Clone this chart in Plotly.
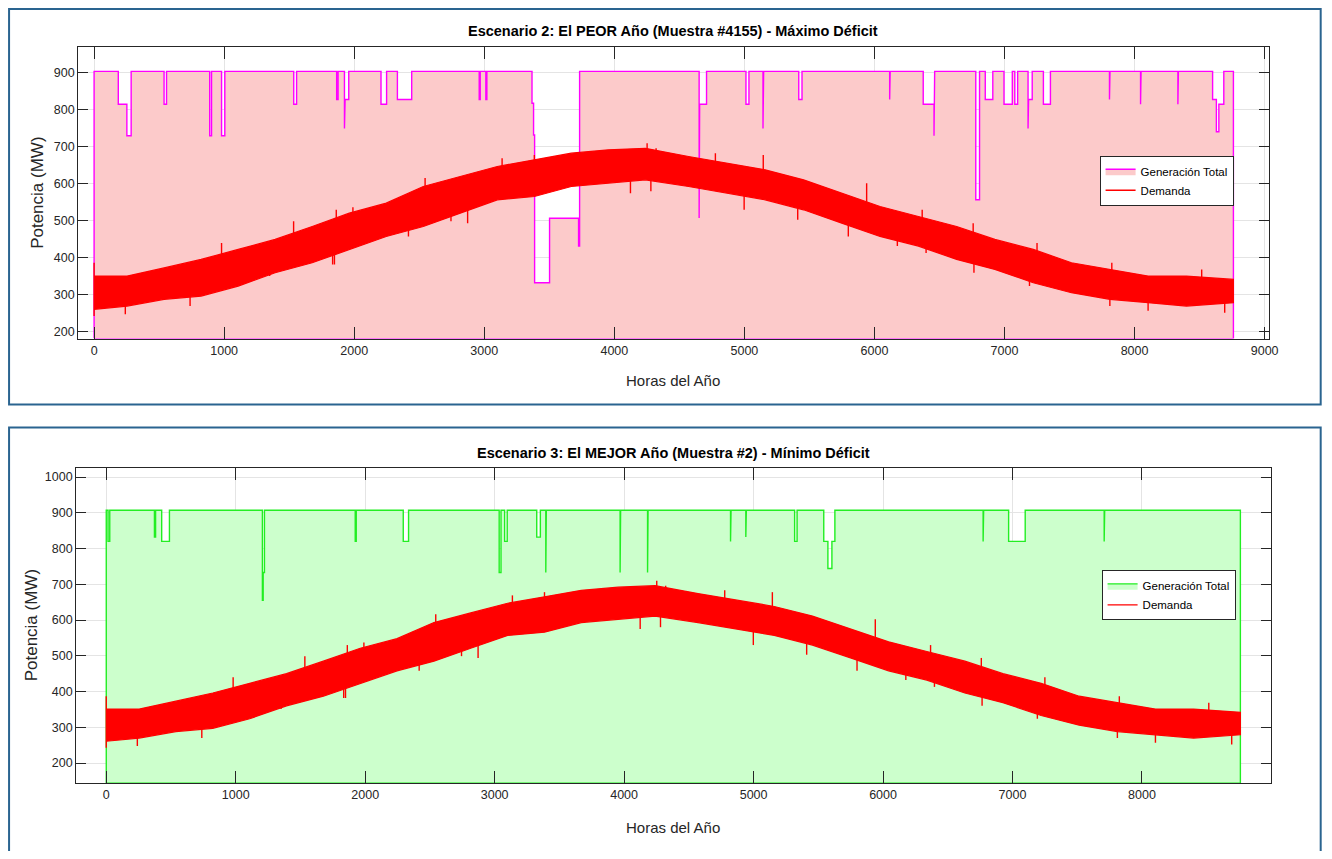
import plotly.graph_objects as go

# page body has an 8 px margin; the photographed page comes out slightly narrower,
# so horizontal targets are widened by XS
OFF = 8
XS = 1.008
W, H = 1340, 859 - 2 * OFF
FONT = "Liberation Sans, Arial, Helvetica, sans-serif"

# ---------------- data ----------------
HOURS_END = 8760

# Demand band (MW): upper / lower edge of the noisy hourly demand
dem_hours = [0, 254, 538, 823, 1108, 1392, 1677, 1962, 2246, 2531, 2815, 3100, 3385, 3669,
             3954, 4239, 4571, 4866, 5160, 5455, 5749, 6043, 6338, 6632, 6926, 7221, 7515,
             7810, 8104, 8399, 8760]
dem_upper = [351, 351, 373, 396, 423, 450, 485, 521, 548, 593, 620, 647, 665, 683,
             692, 696, 674, 656, 638, 611, 575, 539, 512, 485, 450, 423, 387,
             369, 351, 351, 342]
dem_lower = [261, 270, 288, 297, 324, 360, 387, 423, 458, 485, 521, 557, 566, 593,
             602, 611, 593, 575, 557, 530, 494, 458, 432, 396, 369, 333, 306,
             288, 279, 270, 279]

# Isolated demand spikes (hour, band value, spike tip)
spike_hours = [0, 0, 240, 738, 980, 1350, 1534, 1834, 1848, 1862, 1990, 2417, 2545, 2744,
               2872, 3137, 3385, 4124, 4252, 4281, 4321, 4777, 4998, 5145, 5410, 5799,
               5940, 6176, 6367, 6397, 6759, 6765, 7192, 7250, 7810, 7825, 8104, 8516, 8693]
spike_from = [300, 300, 300, 330, 410, 400, 440, 440, 420, 470, 470, 520, 540, 560,
              560, 600, 610, 640, 650, 640, 640, 620, 600, 600, 570, 530,
              540, 490, 470, 470, 440, 420, 380, 380, 330, 330, 310, 310, 300]
spike_to = [387, 243, 248, 270, 440, 351, 499, 382, 382, 530, 537, 458, 616, 499,
            494, 669, 678, 575, 710, 580, 696, 683, 530, 678, 503, 458,
            602, 432, 530, 413, 494, 360, 324, 440, 270, 387, 257, 369, 252]

# Scenario 2 (worst year): total generation, full level and reduced-capacity periods
top_full = 904
top_start = [186, 252, 538, 889, 980, 1535, 1865, 1925, 1930, 2206, 2332, 2961, 3012, 3367,
             3379, 3387, 3502, 3725, 4652, 4656, 5012, 5143, 5418, 6117, 6375, 6458, 6779,
             6852, 6996, 7079, 7181, 7185, 7299, 7807, 8046, 8333, 8600, 8629, 8648]
top_end = [252, 285, 557, 903, 1005, 1557, 1876, 1930, 1958, 2249, 2442, 2969, 3020, 3379,
           3387, 3502, 3725, 3733, 4656, 4709, 5035, 5148, 5443, 6121, 6458, 6463, 6808,
           6910, 7060, 7101, 7185, 7213, 7353, 7811, 8050, 8337, 8629, 8648, 8686]
top_level = [815, 730, 815, 730, 730, 815, 828, 750, 828, 815, 828, 828, 828, 818,
             732, 333, 507, 432, 508, 815, 815, 750, 828, 828, 815, 730, 557,
             828, 815, 815, 750, 828, 815, 828, 815, 815, 828, 741, 815]

# Scenario 3 (best year)
bot_full = 907
bot_start = [14, 372, 428, 1206, 1212, 1923, 2294, 3035, 3077, 3325, 3395, 3969, 4181, 4822,
             4940, 5317, 5542, 5574, 5605, 6773, 6970, 7708]
bot_end = [27, 381, 488, 1212, 1222, 1931, 2335, 3049, 3097, 3353, 3399, 3973, 4185, 4826,
           4944, 5336, 5574, 5605, 5628, 6777, 7098, 7712]
bot_level = [820, 832, 820, 655, 733, 820, 820, 733, 820, 832, 733, 733, 733, 820,
             832, 820, 820, 744, 820, 820, 820, 820]

top_title = "Escenario 2: El PEOR Año (Muestra #4155) - Máximo Déficit"
bot_title = "Escenario 3: El MEJOR Año (Muestra #2) - Mínimo Déficit"
x_title = "Horas del Año"
y_title = "Potencia (MW)"
name_gen = "Generación Total"
name_dem = "Demanda"

top_xrange = [-123, 9031]
top_yrange = [182, 970]
bot_xrange = [-233, 8994]
bot_yrange = [144, 1024]


# ---------------- helpers ----------------
def stairs(full, starts, ends, levels, end_h, base):
    pts = [(0, base), (0, full)]
    n = len(starts)
    for i in range(n):
        s, e, l = starts[i], ends[i], levels[i]
        if pts[-1][0] != s:
            pts.append((s, full))
        pts.append((s, l))
        pts.append((e, l))
        if i == n - 1 or starts[i + 1] != e:
            pts.append((e, full))
    pts += [(end_h, full), (end_h, base), (0, base)]
    return [p[0] for p in pts], [p[1] for p in pts]


def spikes_xy():
    xs, ys = [], []
    for h, a, b in zip(spike_hours, spike_from, spike_to):
        xs += [h, h, None]
        ys += [a, b, None]
    return xs, ys


fig = go.Figure()


def add_panel(xa, ya, full, starts, ends, levels, base, fill, edge, legend):
    gx, gy = stairs(full, starts, ends, levels, HOURS_END, base)
    fig.add_trace(go.Scatter(x=gx, y=gy, mode="lines", fill="tozeroy", fillcolor=fill,
                             line=dict(color=edge, width=1.4), name=name_gen,
                             xaxis=xa, yaxis=ya, legend=legend, hoverinfo="skip"))
    bx = dem_hours + dem_hours[::-1]
    by = dem_upper + dem_lower[::-1]
    fig.add_trace(go.Scatter(x=bx, y=by, mode="lines", fill="toself", fillcolor="#ff0000",
                             line=dict(color="#ff0000", width=1.2), showlegend=False,
                             xaxis=xa, yaxis=ya, hoverinfo="skip"))
    sx, sy = spikes_xy()
    fig.add_trace(go.Scatter(x=sx, y=sy, mode="lines", line=dict(color="#ff0000", width=1.4),
                             name=name_dem, xaxis=xa, yaxis=ya, legend=legend,
                             hoverinfo="skip"))


add_panel("x", "y", top_full, top_start, top_end, top_level, top_yrange[0],
          "#fccaca", "#ff00ff", "legend")
add_panel("x2", "y2", bot_full, bot_start, bot_end, bot_level, bot_yrange[0],
          "#ccffcc", "#22ee22", "legend2")

tickfont = dict(family=FONT, size=12.5, color="#262626")
axis_common = dict(showline=True, linecolor="#262626", linewidth=1, mirror="ticks",
                   ticks="inside", tickcolor="#262626", showgrid=True,
                   gridcolor="#e4e4e4", gridwidth=1, zeroline=False, tickfont=tickfont)


def px(x):
    return (x * XS - OFF) / W


def py(y):
    return 1 - (y - OFF) / H


fig.update_layout(
    width=W, height=H, margin=dict(l=0, r=0, t=0, b=0),
    paper_bgcolor="white", plot_bgcolor="white",
    xaxis=dict(domain=[px(78), px(1268)], anchor="y", range=top_xrange,
               tickmode="array", tickvals=list(range(0, 9001, 1000)), ticklen=12,
               **axis_common),
    yaxis=dict(domain=[py(339), py(47)], anchor="x", range=top_yrange,
               tickmode="array", tickvals=list(range(200, 901, 100)), ticklen=10,
               **axis_common),
    xaxis2=dict(domain=[px(76), px(1270)], anchor="y2", range=bot_xrange,
                tickmode="array", tickvals=list(range(0, 8001, 1000)), ticklen=12,
                **axis_common),
    yaxis2=dict(domain=[py(784), py(469)], anchor="x2", range=bot_yrange,
                tickmode="array", tickvals=list(range(200, 1001, 100)), ticklen=10,
                **axis_common),
    legend=dict(x=px(1099), y=py(156), xanchor="left", yanchor="top", bgcolor="white",
                bordercolor="#262626", borderwidth=1, itemwidth=30, tracegroupgap=0,
                font=dict(family=FONT, size=11.5, color="black")),
    legend2=dict(x=px(1101), y=py(571), xanchor="left", yanchor="top", bgcolor="white",
                 bordercolor="#262626", borderwidth=1, itemwidth=30, tracegroupgap=0,
                 font=dict(family=FONT, size=11.5, color="black")),
    showlegend=True,
)

ann = []


def add_text(text, x, y, size, color, angle=0):
    ann.append(dict(text=text, x=px(x), y=py(y), xref="paper", yref="paper",
                    xanchor="center", yanchor="middle", textangle=angle, showarrow=False,
                    font=dict(family=FONT, size=size, color=color)))


add_text("<b>" + top_title + "</b>", 673, 31, 14.5, "black")
add_text("<b>" + bot_title + "</b>", 673, 454, 14.5, "black")
add_text(x_title, 673, 381, 15, "#262626")
add_text(x_title, 673, 828, 15, "#262626")
add_text(y_title, 38, 193, 17, "#262626", -90)
add_text(y_title, 31, 626, 17, "#262626", -90)
fig.update_layout(annotations=ann)

border = "#2a6490"
fig.add_shape(type="rect", xref="paper", yref="paper", x0=px(9), x1=px(1320), y0=py(405),
              y1=py(9), line=dict(color=border, width=2), fillcolor="rgba(0,0,0,0)")
fig.add_shape(type="rect", xref="paper", yref="paper", x0=px(9), x1=px(1320), y0=py(880),
              y1=py(428), line=dict(color=border, width=2), fillcolor="rgba(0,0,0,0)")

fig.write_html("out.html")
